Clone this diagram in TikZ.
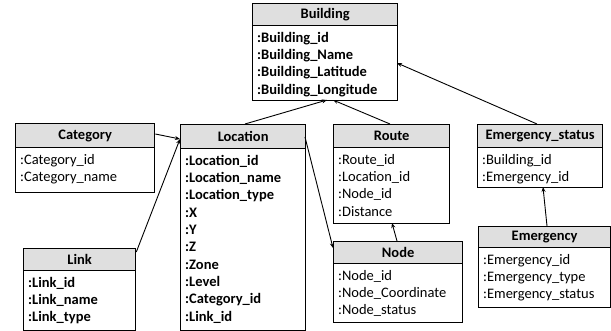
\documentclass[tikz,border=0pt]{standalone}
\usepackage{fontspec}
\setmainfont{Carlito}
\usetikzlibrary{arrows.meta}
\tikzset{
  hdrbox/.style={draw=black, line width=1.3pt, fill=gray!25, anchor=north west, inner sep=0pt, font=\bfseries\fontsize{14.5}{16}\selectfont},
  bodybox/.style={draw=black, line width=1.3pt, fill=white, anchor=north west, inner sep=0pt},
  rows/.style={anchor=north west, align=left, inner sep=0pt, font=\fontsize{14.5}{17.3}\selectfont},
  brows/.style={rows, font=\bfseries\fontsize{14.5}{17.3}\selectfont},
  conn/.style={line width=0.9pt, -{Stealth[length=5pt,width=4pt]}}
}
% \myentity{name}{x1}{y1}{x2}{yh}{y2}{title}{rowstyle}{rows}
\newcommand{\myentity}[9]{%
  \node[bodybox, minimum width={#4-#2}, minimum height={#6-#5}] (#1) at (#2,#5) {};
  \node[hdrbox, minimum width={#4-#2}, minimum height={#5-#3}] (#1h) at (#2,#3) {#7};
  \node[#8] (#1r) at ({#2+5},{#5+7}) {#9};
}
\begin{document}
\begin{tikzpicture}[x=1pt,y=-1pt]
\useasboundingbox (0,0) rectangle (611,331);
\myentity{bld}{252}{3}{397}{25}{100}{Building}{brows}{:Building\_id\\:Building\_Name\\:Building\_Latitude\\:Building\_Longitude}
\myentity{cat}{15}{123}{154}{147}{192}{Category}{rows}{:Category\_id\\:Category\_name}
\myentity{loc}{180}{124}{305}{148}{330}{Location}{brows}{:Location\_id\\:Location\_name\\:Location\_type\\:X\\:Y\\:Z\\:Zone\\:Level\\:Category\_id\\:Link\_id}
\myentity{lnk}{23}{248}{135}{270}{330}{Link}{brows}{:Link\_id\\:Link\_name\\:Link\_type}
\myentity{rte}{333}{124}{449}{147}{223}{Route}{rows}{:Route\_id\\:Location\_id\\:Node\_id\\:Distance}
\myentity{nod}{333}{241}{462}{263}{322}{Node}{rows}{:Node\_id\\:Node\_Coordinate\\:Node\_status}
\myentity{ems}{477}{124}{602}{147}{187}{Emergency\_status}{rows}{:Building\_id\\:Emergency\_id}
\myentity{emg}{478}{226}{610}{247}{307}{Emergency}{rows}{:Emergency\_id\\:Emergency\_type\\:Emergency\_status}
% connectors
\coordinate (locTL) at (180,139);
\draw[conn] (cat.north east |- 0,134) -- (locTL);
\draw[conn] (lnk.north east |- 0,252) -- (locTL);
\draw[conn] (locTL -| 245,0) ++(0,-15) -- (327,100);
\draw[conn] (390,124) -- (333,100);
\draw[conn] (537,124) -- (397,63);
\draw[conn] (305,137) -- (333,248);
\draw[conn] (397,241) -- (392,223);
\draw[conn] (547,226) -- (543,187);
\end{tikzpicture}
\end{document}
